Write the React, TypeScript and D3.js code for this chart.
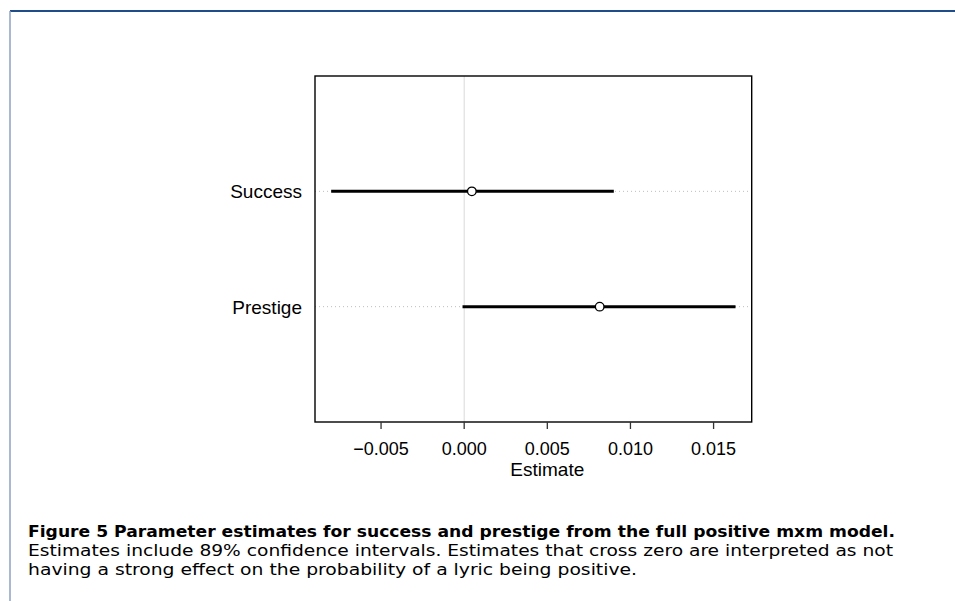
import React from "react";
import * as d3 from "d3";

const parameters = ["Prestige", "Success"];
const estimates = [0.00815, 0.00046];
const lowerBounds = [-0.0001, -0.008];
const upperBounds = [0.01632, 0.009];
const xTicks = [-0.005, 0, 0.005, 0.01, 0.015];
const xTickLabels = ["\u22120.005", "0.000", "0.005", "0.010", "0.015"];
const captionTitle = "Figure 5 Parameter estimates for success and prestige from the full positive mxm model.";
const captionLines = [
  "Estimates include 89% confidence intervals. Estimates that cross zero are interpreted as not",
  "having a strong effect on the probability of a lyric being positive.",
];

const W = 955;
const H = 601;
const plot = { left: 315, right: 751.7, top: 76, bottom: 422 };

export default function App() {
  const lo = d3.min(lowerBounds) as number;
  const hi = d3.max(upperBounds) as number;
  const pad = (hi - lo) * 0.04;
  const x = d3.scaleLinear().domain([lo - pad, hi + pad]).range([plot.left, plot.right]);
  const y = d3.scaleLinear().domain([0, parameters.length + 1]).range([plot.bottom, plot.top]);
  const axisFont = "Liberation Sans, Arial, Helvetica, sans-serif";
  const capFont = "'DejaVu Sans Condensed', 'Liberation Sans Narrow', 'DejaVu Sans', sans-serif";

  return (
    <svg width={W} height={H} style={{ position: "absolute", left: 0, top: 0, background: "#fff" }}>
      {/* frame */}
      <line x1={10} x2={W} y1={11} y2={11} stroke="#1f4d8a" strokeWidth={2} />
      <line x1={10} x2={10} y1={11} y2={H} stroke="#8ea2c2" strokeWidth={1.5} />

      {/* zero line */}
      <line x1={x(0)} x2={x(0)} y1={plot.top} y2={plot.bottom} stroke="#d9d9d9" strokeWidth={1} />

      {/* dotted row guides */}
      {parameters.map((p, i) => (
        <line
          key={"g" + p}
          x1={plot.left}
          x2={plot.right}
          y1={y(i + 1)}
          y2={y(i + 1)}
          stroke="#bdbdbd"
          strokeWidth={1}
          strokeDasharray="1 3"
        />
      ))}

      {/* intervals */}
      {parameters.map((p, i) => (
        <line
          key={"ci" + p}
          x1={x(lowerBounds[i])}
          x2={x(upperBounds[i])}
          y1={y(i + 1)}
          y2={y(i + 1)}
          stroke="#000"
          strokeWidth={3}
        />
      ))}
      {parameters.map((p, i) => (
        <circle
          key={"pt" + p}
          cx={x(estimates[i])}
          cy={y(i + 1)}
          r={4.3}
          fill="#fff"
          stroke="#000"
          strokeWidth={1.3}
        />
      ))}

      {/* plot box */}
      <rect
        x={plot.left}
        y={plot.top}
        width={plot.right - plot.left}
        height={plot.bottom - plot.top}
        fill="none"
        stroke="#000"
        strokeWidth={1.4}
      />

      {/* y labels */}
      {parameters.map((p, i) => (
        <text
          key={"yl" + p}
          x={302}
          y={y(i + 1) + 7}
          textAnchor="end"
          fontFamily={axisFont}
          fontSize={19}
          fill="#000"
        >
          {p}
        </text>
      ))}

      {/* x axis */}
      {xTicks.map((t, i) => (
        <g key={"t" + t}>
          <line x1={x(t)} x2={x(t)} y1={plot.bottom} y2={plot.bottom + 7} stroke="#333" strokeWidth={1.3} />
          <text x={x(t)} y={455} textAnchor="middle" fontFamily={axisFont} fontSize={18} fill="#000">
            {xTickLabels[i]}
          </text>
        </g>
      ))}
      <text x={x(0.005)} y={476} textAnchor="middle" fontFamily={axisFont} fontSize={19} fill="#000">
        Estimate
      </text>

      {/* caption */}
      <text
        x={28}
        y={537}
        fontFamily={capFont}
        fontSize={15.5}
        fontWeight="bold"
        fill="#000"
        textLength={867}
        lengthAdjust="spacingAndGlyphs"
      >
        {captionTitle}
      </text>
      {captionLines.map((l, i) => (
        <text
          key={"c" + i}
          x={28}
          y={556 + i * 19}
          fontFamily={capFont}
          fontSize={15.5}
          fill="#000"
          textLength={i === 0 ? 865 : 609}
          lengthAdjust="spacingAndGlyphs"
        >
          {l}
        </text>
      ))}
    </svg>
  );
}
